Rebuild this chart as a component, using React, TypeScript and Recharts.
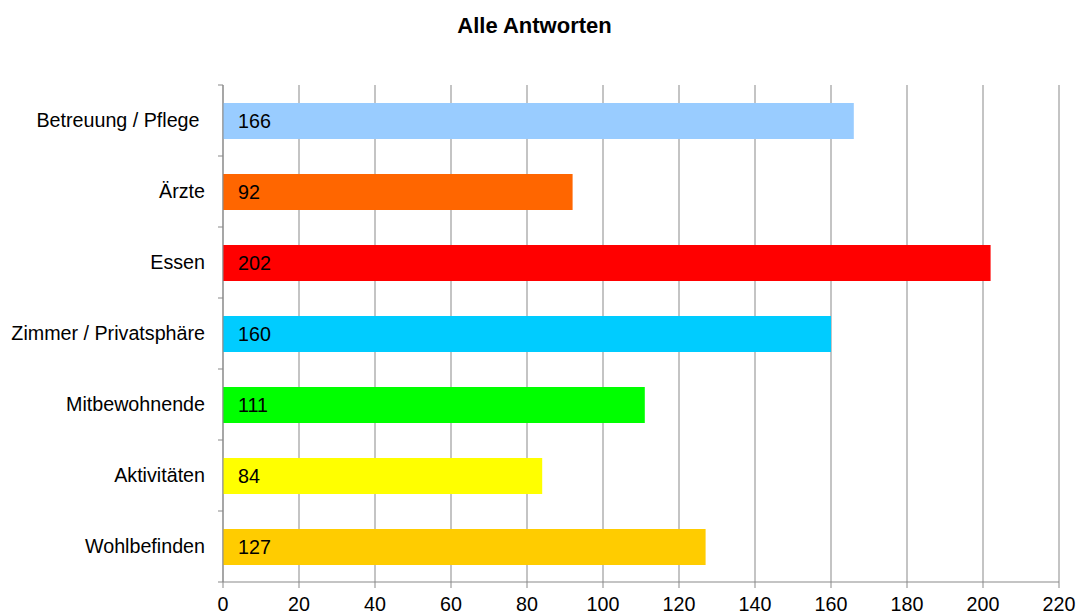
import React from "react";
import { BarChart, Bar, XAxis, YAxis, CartesianGrid, Cell, LabelList } from "recharts";

const categories = [
  "Betreuung / Pflege ",
  "Ärzte",
  "Essen",
  "Zimmer / Privatsphäre",
  "Mitbewohnende",
  "Aktivitäten",
  "Wohlbefinden",
];
const answers = [166, 92, 202, 160, 111, 84, 127];
const xTicks = [0, 20, 40, 60, 80, 100, 120, 140, 160, 180, 200, 220];

const barColors = ["#99ccff", "#ff6600", "#ff0000", "#00ccff", "#00ff00", "#ffff00", "#ffcc00"];

const W = 1079;
const H = 614;
const TOP = 85;
const X_AXIS_H = 32;
const Y_AXIS_W = 223;
const TICK_SIZE = 5;
const TICK_MARGIN = 13;
const GRAY = "#898989";
const FONT = "'Liberation Sans', Arial, sans-serif";
const FS = 19.7;

const data = categories.map((name, i) => ({ name, value: answers[i] }));
const band = (H - TOP - X_AXIS_H) / categories.length;

function CategoryTick(props: any) {
  const { x, y, payload, index } = props;
  const axisX = x + TICK_MARGIN + TICK_SIZE;
  return (
    <g>
      <line x1={axisX - TICK_SIZE} x2={axisX} y1={y - band / 2} y2={y - band / 2} stroke={GRAY} />
      {index === categories.length - 1 && (
        <line x1={axisX - TICK_SIZE} x2={axisX} y1={y + band / 2} y2={y + band / 2} stroke={GRAY} />
      )}
      <text
        x={x}
        y={y}
        dy="0.35em"
        textAnchor="end"
        fill="#000"
        fontSize={FS}
        fontFamily={FONT}
        xmlSpace="preserve"
        style={{ whiteSpace: "pre" }}
      >
        {payload.value}
      </text>
    </g>
  );
}

export default function App() {
  return (
    <div style={{ position: "absolute", left: 0, top: 0, width: W, height: H, background: "#fff" }}>
      <div
        style={{
          position: "absolute",
          left: 0,
          width: 1069,
          top: 13,
          textAlign: "center",
          fontFamily: FONT,
          fontWeight: "bold",
          fontSize: 22,
          color: "#000",
        }}
      >
        Alle Antworten
      </div>
      <BarChart
        width={W}
        height={H}
        data={data}
        layout="vertical"
        margin={{ top: TOP, right: 20, bottom: 0, left: 0 }}
      >
        <CartesianGrid horizontal={false} stroke={GRAY} />
        <XAxis
          type="number"
          domain={[0, 220]}
          ticks={xTicks}
          interval={0}
          height={X_AXIS_H}
          stroke={GRAY}
          tickSize={6}
          tickMargin={9}
          tick={{ fill: "#000", fontSize: FS, fontFamily: FONT }}
        />
        <YAxis
          type="category"
          dataKey="name"
          width={Y_AXIS_W}
          stroke={GRAY}
          tickLine={false}
          tickSize={TICK_SIZE}
          tickMargin={TICK_MARGIN}
          tick={<CategoryTick />}
          interval={0}
        />
        <Bar dataKey="value" barSize={36} isAnimationActive={false}>
          {data.map((d, i) => (
            <Cell key={d.name} fill={barColors[i]} />
          ))}
          <LabelList
            dataKey="value"
            position="insideLeft"
            offset={15}
            fill="#000"
            fontSize={FS}
            fontFamily={FONT}
          />
        </Bar>
      </BarChart>
    </div>
  );
}
